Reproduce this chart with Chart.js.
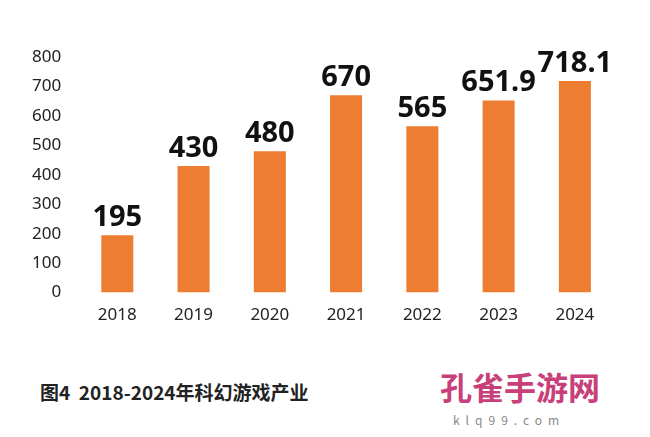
<!DOCTYPE html><html><head><meta charset="utf-8">
<script src="https://cdn.jsdelivr.net/npm/chart.js@4/dist/chart.umd.min.js"></script>
<style>body{margin:0;background:#fff;width:650px;height:437px;overflow:hidden;position:relative;font-family:"Noto Sans CJK SC",sans-serif}
#w{position:absolute;left:0;top:0;width:650px;height:329px}
#cap{position:absolute;left:40px;top:378px;font-size:19px;font-weight:bold;color:#222}
#wm{position:absolute;left:440px;top:366px;font-size:32px;line-height:40px;font-weight:bold;color:#c8407a}
#wm2{position:absolute;left:453px;top:413px;font-size:12px;line-height:14px;color:#888;letter-spacing:6px}
</style></head><body>
<div id="w"><canvas id="c"></canvas></div>
<div id="cap">图4&nbsp; 2018-2024年科幻游戏产业</div>
<div id="wm">孔雀手游网</div><div id="wm2">klq99.com</div>
<script>
const categories=["2018","2019","2020","2021","2022","2023","2024"];
const values=[195,430,480,670,565,651.9,718.1];
const labels=["195","430","480","670","565","651.9","718.1"];
const lbl={id:'lbl',afterDatasetsDraw(ch){const x=ch.ctx;const m=ch.getDatasetMeta(0);x.save();x.font='bold 29px "Noto Sans",Arial';x.fillStyle='#111';x.textAlign='center';x.textBaseline='bottom';m.data.forEach((b,i)=>x.fillText(labels[i],b.x,b.y-3));x.restore();}};
new Chart(document.getElementById('c'),{type:'bar',data:{labels:categories,datasets:[{data:values,backgroundColor:'#ed7d31',barPercentage:0.42,categoryPercentage:1}]},
options:{responsive:true,maintainAspectRatio:false,animation:false,layout:{padding:{left:22,right:37,top:57,bottom:0}},
plugins:{legend:{display:false},tooltip:{enabled:false}},
scales:{y:{min:0,max:800,ticks:{stepSize:100,color:'#222',font:{size:17,family:'"Noto Sans"'},padding:10},grid:{display:false},border:{display:false}},
x:{ticks:{color:'#222',font:{size:17,family:'"Noto Sans"'},padding:4},grid:{display:false},border:{display:false}}}},
plugins:[lbl]});
</script></body></html>
